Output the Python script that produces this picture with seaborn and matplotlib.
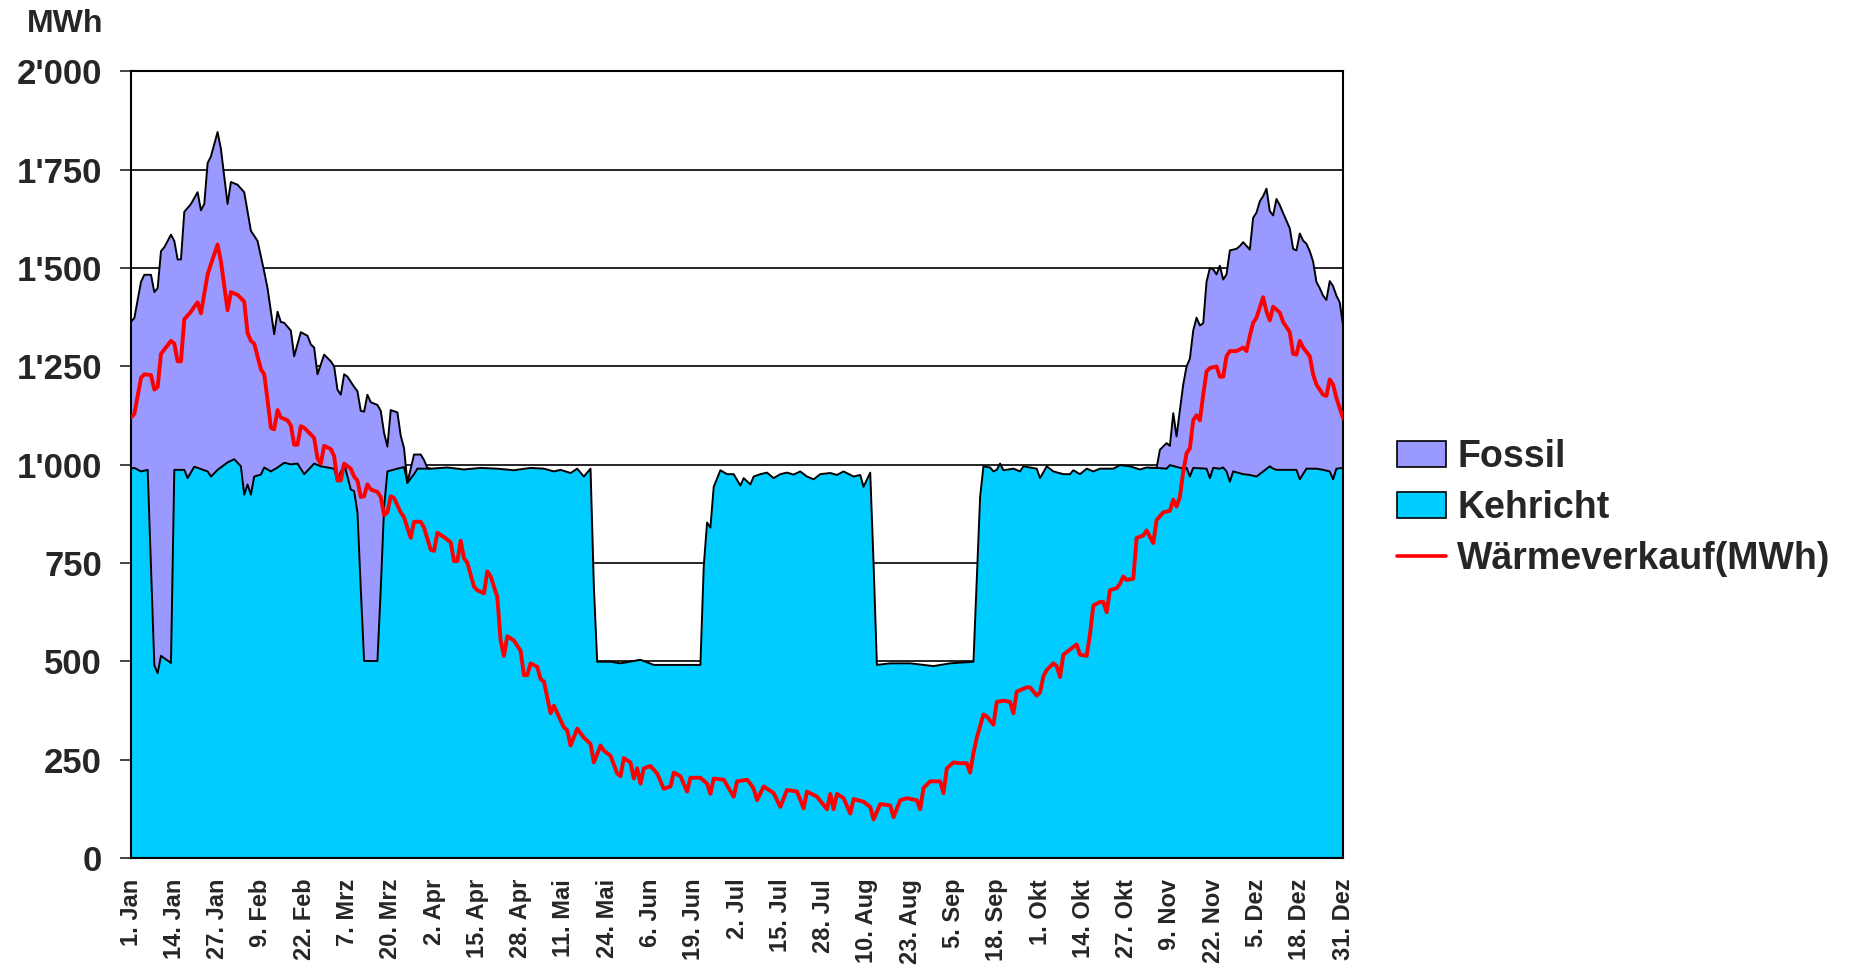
import pandas as pd
import seaborn as sns
import matplotlib.pyplot as plt
from matplotlib.patches import Patch
from matplotlib.lines import Line2D
from matplotlib.ticker import FuncFormatter

# Tage ab 1. Jan (0 .. 364), Achsbeschriftung alle 13 Tage
tick_tage = list(range(0, 365, 13))
tick_labels = ["1. Jan", "14. Jan", "27. Jan", "9. Feb", "22. Feb", "7. Mrz", "20. Mrz",
               "2. Apr", "15. Apr", "28. Apr", "11. Mai", "24. Mai", "6. Jun", "19. Jun",
               "2. Jul", "15. Jul", "28. Jul", "10. Aug", "23. Aug", "5. Sep", "18. Sep",
               "1. Okt", "14. Okt", "27. Okt", "9. Nov", "22. Nov", "5. Dez", "18. Dez",
               "31. Dez"]

# Kehricht (Tag, MWh)
kehricht = [
    (0, 990), (1, 992), (3, 983), (5, 987), (7, 490), (8, 470), (9, 514), (12, 496),
    (13, 987), (16, 987), (17, 966), (19, 995), (23, 983), (24, 970), (26, 987),
    (29, 1006), (31, 1014), (33, 996), (34, 924), (35, 950), (36, 924), (37, 970),
    (39, 975), (40, 993), (42, 983), (44, 993), (46, 1005), (48, 1001), (50, 1003),
    (52, 976), (55, 1003), (57, 996), (61, 990), (62, 960), (64, 1003), (65, 970),
    (66, 937), (67, 933), (68, 879), (69, 684), (70, 501), (74, 501), (75, 684),
    (76, 892), (77, 983), (80, 990), (82, 994), (83, 954), (85, 976), (86, 990),
    (90, 990), (95, 993), (100, 988), (105, 992), (110, 990), (115, 986), (120, 992),
    (124, 990), (127, 983), (129, 987), (132, 979), (134, 990), (136, 970), (138, 990),
    (139, 690), (140, 499), (144, 499), (147, 495), (151, 501), (153, 504), (157, 491),
    (163, 491), (171, 491), (172, 742), (173, 853), (174, 840), (175, 944), (177, 986),
    (179, 976), (181, 976), (183, 947), (184, 966), (186, 950), (187, 970), (189, 976),
    (191, 980), (193, 966), (195, 976), (197, 980), (199, 975), (201, 983), (203, 970),
    (205, 963), (207, 976), (210, 979), (212, 974), (214, 983), (217, 970), (219, 974),
    (220, 944), (222, 980), (223, 749), (224, 491), (228, 495), (234, 495), (241, 488),
    (246, 495), (253, 499), (254, 710), (255, 918), (256, 996), (258, 993), (259, 983),
    (260, 987), (261, 1003), (262, 986), (265, 990), (267, 983), (268, 996), (272, 990),
    (273, 966), (275, 996), (277, 983), (280, 976), (282, 976), (283, 986), (285, 976),
    (287, 990), (289, 983), (291, 990), (295, 990), (297, 999), (300, 996), (303, 988),
    (305, 993), (308, 992), (311, 990), (312, 999), (316, 990), (317, 992), (318, 970),
    (319, 992), (323, 990), (324, 966), (325, 992), (327, 990), (328, 993), (329, 983),
    (330, 957), (331, 983), (334, 976), (336, 974), (338, 970), (340, 983), (342, 996),
    (343, 990), (344, 987), (350, 987), (351, 963), (353, 990), (356, 990), (358, 987),
    (360, 983), (361, 963), (362, 990), (364, 992),
]

# Kehricht + Fossil (Obergrenze der Fläche) in den Heizperioden
gesamt_anfang = [
    (0, 1364), (1, 1373), (3, 1465), (4, 1483), (6, 1483), (7, 1439), (8, 1449),
    (9, 1543), (10, 1553), (12, 1585), (13, 1569), (14, 1522), (15, 1522), (16, 1643),
    (18, 1663), (20, 1693), (21, 1647), (22, 1663), (23, 1767), (24, 1784), (26, 1846),
    (27, 1803), (29, 1663), (30, 1719), (32, 1712), (34, 1693), (36, 1595), (38, 1569),
    (40, 1491), (41, 1449), (43, 1332), (44, 1389), (45, 1363), (46, 1361), (48, 1341),
    (49, 1276), (51, 1337), (53, 1328), (54, 1306), (55, 1298), (56, 1230), (58, 1280),
    (60, 1263), (61, 1250), (62, 1191), (63, 1178), (64, 1230), (65, 1224), (67, 1198),
    (68, 1187), (69, 1137), (70, 1135), (71, 1178), (72, 1159), (74, 1152), (75, 1137),
    (76, 1081), (77, 1046), (78, 1139), (80, 1133), (81, 1074), (82, 1042), (83, 954),
    (85, 1026), (87, 1026), (88, 1012), (89, 992), (90, 990),
]
gesamt_ende = [
    (306, 992), (308, 992), (309, 1038), (311, 1055), (312, 1048), (313, 1131),
    (314, 1072), (315, 1139), (316, 1204), (317, 1250), (318, 1270), (319, 1341),
    (320, 1374), (321, 1354), (322, 1360), (323, 1465), (324, 1500), (325, 1497),
    (326, 1484), (327, 1506), (328, 1471), (329, 1484), (330, 1545), (332, 1549),
    (333, 1556), (334, 1566), (336, 1547), (337, 1628), (338, 1641), (339, 1670),
    (340, 1683), (341, 1702), (342, 1645), (343, 1634), (344, 1676), (345, 1660),
    (346, 1640), (348, 1601), (349, 1549), (350, 1545), (351, 1588), (352, 1570),
    (353, 1562), (354, 1543), (355, 1517), (356, 1465), (357, 1449), (358, 1430),
    (359, 1419), (360, 1467), (361, 1454), (362, 1430), (363, 1413), (364, 1354),
]

# Wärmeverkauf (Tag, MWh)
waermeverkauf = [
    (0, 1120), (1, 1129), (3, 1221), (4, 1230), (6, 1228), (7, 1191), (8, 1198),
    (9, 1282), (10, 1293), (12, 1315), (13, 1308), (14, 1263), (15, 1263), (16, 1370),
    (18, 1389), (19, 1402), (20, 1413), (21, 1385), (23, 1484), (24, 1510), (26, 1560),
    (27, 1517), (29, 1393), (30, 1439), (32, 1432), (34, 1415), (35, 1335), (36, 1315),
    (37, 1308), (39, 1243), (40, 1230), (41, 1165), (42, 1094), (43, 1090), (44, 1139),
    (45, 1120), (47, 1113), (48, 1100), (49, 1051), (50, 1051), (51, 1098), (52, 1094),
    (54, 1077), (55, 1068), (56, 1016), (57, 1003), (58, 1048), (60, 1040), (61, 1022),
    (62, 960), (63, 960), (64, 1003), (66, 990), (67, 970), (68, 960), (69, 918),
    (70, 920), (71, 950), (72, 937), (74, 931), (75, 918), (76, 872), (77, 879),
    (78, 920), (79, 915), (81, 879), (82, 866), (84, 814), (85, 855), (87, 855),
    (88, 840), (90, 784), (91, 781), (92, 827), (94, 816), (96, 803), (97, 755),
    (98, 755), (99, 807), (100, 762), (101, 751), (103, 690), (104, 681), (106, 673),
    (107, 729), (108, 716), (110, 664), (111, 553), (112, 514), (113, 564), (115, 553),
    (117, 527), (118, 465), (119, 465), (120, 495), (122, 486), (123, 455), (124, 449),
    (126, 368), (127, 387), (130, 332), (131, 325), (132, 286), (134, 329), (136, 306),
    (138, 290), (139, 243), (141, 286), (142, 273), (144, 260), (146, 215), (147, 208),
    (148, 254), (150, 243), (151, 202), (152, 228), (153, 189), (154, 228), (156, 234),
    (158, 215), (160, 176), (162, 182), (163, 217), (165, 208), (167, 169), (168, 204),
    (171, 204), (173, 189), (174, 163), (175, 202), (178, 199), (181, 156), (182, 195),
    (185, 199), (186, 189), (187, 176), (188, 147), (190, 182), (193, 165), (195, 130),
    (197, 173), (200, 169), (202, 126), (203, 169), (206, 156), (209, 124), (210, 163),
    (211, 124), (212, 163), (214, 152), (216, 113), (217, 150), (220, 143), (222, 130),
    (223, 98), (225, 137), (228, 134), (229, 104), (231, 147), (233, 152), (236, 147),
    (237, 124), (238, 178), (240, 195), (243, 195), (244, 165), (245, 228), (247, 243),
    (249, 241), (251, 241), (252, 217), (253, 267), (254, 306), (256, 365), (257, 360),
    (259, 339), (260, 397), (262, 400), (264, 397), (265, 368), (266, 423), (269, 434),
    (270, 434), (272, 413), (273, 421), (274, 462), (275, 478), (277, 495), (278, 488),
    (279, 460), (280, 517), (282, 530), (284, 543), (285, 517), (287, 514), (288, 569),
    (289, 642), (291, 651), (292, 651), (293, 625), (294, 681), (296, 686), (297, 697),
    (298, 716), (299, 707), (301, 710), (302, 814), (304, 820), (305, 833), (307, 801),
    (308, 859), (310, 879), (312, 883), (313, 911), (314, 894), (315, 918), (316, 983),
    (317, 1029), (318, 1042), (319, 1113), (320, 1126), (321, 1113), (322, 1178),
    (323, 1237), (324, 1246), (326, 1250), (327, 1224), (328, 1224), (329, 1276),
    (330, 1289), (332, 1289), (334, 1298), (335, 1289), (336, 1328), (337, 1361),
    (338, 1374), (339, 1400), (340, 1426), (341, 1390), (342, 1367), (343, 1402),
    (345, 1387), (346, 1363), (348, 1337), (349, 1282), (350, 1280), (351, 1315),
    (352, 1298), (354, 1276), (355, 1230), (356, 1204), (358, 1178), (359, 1175),
    (360, 1217), (361, 1204), (362, 1170), (364, 1118),
]

col_fossil = "#9999FF"
col_kehricht = "#00CCFF"
col_verkauf = "#FF0000"

k_df = pd.DataFrame(kehricht, columns=["tag", "mwh"])
g_dfs = [pd.DataFrame(g, columns=["tag", "mwh"]) for g in (gesamt_anfang, gesamt_ende)]
v_df = pd.DataFrame(waermeverkauf, columns=["tag", "mwh"])

sns.set_style("white")
plt.rcParams["font.family"] = ["Liberation Sans", "DejaVu Sans"]

fig = plt.figure(figsize=(18.69, 9.66), dpi=100)
ax = fig.add_axes([0.0701, 0.1118, 0.6485, 0.8142])

# Flächen: zuerst Gesamt (Fossil), darüber Kehricht
for g in g_dfs:
    ax.fill_between(g["tag"], g["mwh"], color=col_fossil, lw=0, zorder=1)
ax.fill_between(k_df["tag"], k_df["mwh"], color=col_kehricht, lw=0, zorder=2)
for g in g_dfs:
    ax.plot(g["tag"], g["mwh"], color="black", lw=1.4, zorder=3)
ax.plot(k_df["tag"], k_df["mwh"], color="black", lw=1.4, zorder=3)

sns.lineplot(data=v_df, x="tag", y="mwh", color=col_verkauf, lw=2.8, ax=ax, zorder=4)

ax.set_xlim(0, 364)
ax.set_ylim(0, 2000)
ax.set_yticks(range(0, 2001, 250))
ax.yaxis.set_major_formatter(FuncFormatter(lambda v, p: f"{v:,.0f}".replace(",", "'")))
ax.set_xticks(tick_tage, tick_labels, rotation=90)
ax.yaxis.grid(True, color="black", lw=1.2)
ax.xaxis.grid(False)
ax.set_axisbelow(True)
ax.set_xlabel("")
ax.set_ylabel("")

ax.tick_params(axis="y", left=True, length=8, width=1.2, pad=13, labelsize=25)
ax.tick_params(axis="x", length=0, pad=15, labelsize=17)
for lbl in ax.get_xticklabels() + ax.get_yticklabels():
    lbl.set_fontweight("bold")
for s in ax.spines.values():
    s.set_color("black")
    s.set_linewidth(1.5)

fig.text(65 / 1869, 1 - 24 / 966, "MWh", ha="center", va="center",
         fontsize=23, fontweight="bold")

handles = [
    Patch(facecolor=col_fossil, edgecolor="black", lw=1.2, label="Fossil"),
    Patch(facecolor=col_kehricht, edgecolor="black", lw=1.2, label="Kehricht"),
    Line2D([], [], color=col_verkauf, lw=2.6, label="Wärmeverkauf(MWh)"),
]
fig.legend(handles=handles, loc="center left", bbox_to_anchor=(0.7475, 0.474),
           frameon=False, prop={"size": 27, "weight": "bold"}, handlelength=1.3,
           handleheight=0.7, handletextpad=0.3, labelspacing=0.4, borderpad=0,
           borderaxespad=0)

fig.savefig("out.png", dpi=100)
